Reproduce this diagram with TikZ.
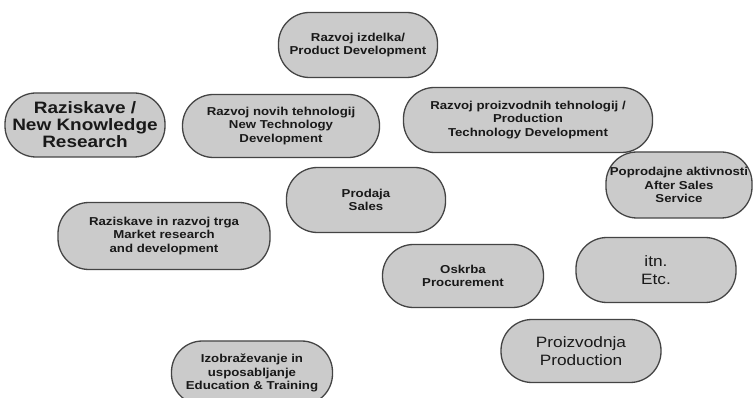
\documentclass[tikz,border=0pt]{standalone}
\usepackage{fontspec}
\setmainfont{Liberation Sans}
\newfontfamily\lab[FakeStretch=1.15]{Liberation Sans}
\definecolor{boxgray}{HTML}{CBCBCB}
\definecolor{edgegray}{HTML}{444444}
\begin{document}
\begin{tikzpicture}[x=1pt,y=-1pt,
  box/.style={draw=edgegray, line width=1.3pt, fill=boxgray, rounded corners=31pt,
    align=center, inner sep=0pt, text=black!90},
  small/.style={font=\lab\bfseries\fontsize{11.5}{13.5}\selectfont},
  big/.style={font=\lab\bfseries\fontsize{16.5}{17}\selectfont},
  plain/.style={font=\lab\fontsize{15}{18}\selectfont},
]
\fill[white] (0,0) rectangle (756,398);
\clip (0,0) rectangle (756,398);
\node[box,big,minimum width=160pt,minimum height=64pt] (n1) at (85,125) {Raziskave /\\New Knowledge\\Research};
\node[box,small,minimum width=197pt,minimum height=63pt] (n2) at (281,126) {Razvoj novih tehnologij\\New Technology\\Development};
\node[box,small,minimum width=159pt,minimum height=65pt] (n3) at (358,45) {Razvoj izdelka/\\Product Development};
\node[box,small,minimum width=159pt,minimum height=65pt] (n4) at (366,200) {Prodaja\\Sales};
\node[box,small,minimum width=249pt,minimum height=65pt] (n5) at (528,120) {Razvoj proizvodnih tehnologij /\\Production\\Technology Development};
\node[box,small,minimum width=146pt,minimum height=66pt] (n6) at (679,185) {Poprodajne aktivnosti\\After Sales\\Service};
\node[box,small,minimum width=212pt,minimum height=67pt] (n7) at (164,236) {Raziskave in razvoj trga\\Market research\\and development};
\node[box,small,minimum width=161pt,minimum height=64pt] (n8) at (252,373) {Izobraževanje in\\usposabljanje\\Education \& Training};
\node[box,small,minimum width=161pt,minimum height=63pt] (n9) at (463,276) {Oskrba\\Procurement};
\node[box,plain,minimum width=160pt,minimum height=65pt] (n10) at (656,270) {itn.\\Etc.};
\node[box,plain,minimum width=160pt,minimum height=63pt] (n11) at (581,351) {Proizvodnja\\Production};
\end{tikzpicture}
\end{document}
